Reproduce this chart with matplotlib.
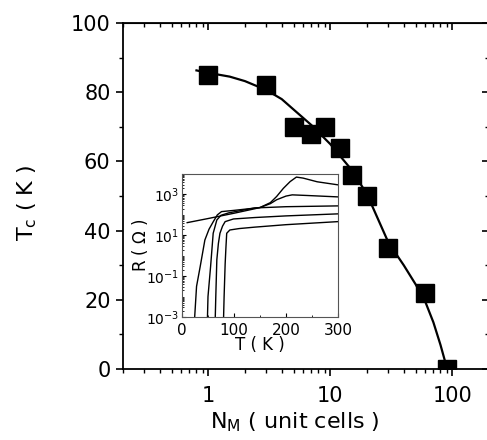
import numpy as np
import matplotlib
matplotlib.use("Agg")
import matplotlib.pyplot as plt
from matplotlib.ticker import FixedLocator, NullFormatter, LogLocator, MultipleLocator

plt.rcParams["font.family"] = ["DejaVu Sans"]
plt.rcParams["mathtext.fontset"] = "dejavusans"

# main data: Tc vs manganite thickness
n_m = [1, 3, 5, 7, 9, 12, 15, 20, 30, 60, 90]
tc = [85, 82, 70, 68, 70, 64, 56, 50, 35, 22, 0]

# guide line
fit_n = [0.8, 1, 1.5, 2, 3, 4, 5, 7, 10, 15, 20, 30, 40, 50, 60, 70, 80, 90]
fit_tc = [86.3, 85.6, 84.5, 83.2, 80.6, 78, 75, 70.5, 65, 57.5, 50.5, 36.5, 30, 24.5, 19.5, 13.5, 7, 0.5]

# inset R(T) curves (log10 R)
tA = [10, 50, 100, 140, 150, 170, 182, 195, 208, 220, 233, 260, 300]
rA = [1.62, 1.82, 2.08, 2.3, 2.36, 2.6, 2.9, 3.3, 3.63, 3.85, 3.8, 3.62, 3.47]
tB = [22, 28, 35, 44, 52, 60, 68, 76, 100, 150, 170, 182, 200, 212, 240, 300]
rB = [-4, -1.5, -0.53, 0.77, 1.3, 1.66, 2.0, 2.16, 2.22, 2.36, 2.55, 2.74, 2.92, 2.98, 2.95, 2.88]
tC = [48, 50, 55, 60, 67, 75, 90, 140, 200, 300]
rC = [-4, -2, -0.53, 1.1, 1.75, 1.98, 2.1, 2.34, 2.4, 2.44]
tD = [63, 65, 67, 70, 73, 78, 83, 99, 140, 200, 300]
rD = [-4, -2, -0.2, 0.6, 1.1, 1.45, 1.67, 1.8, 1.87, 1.95, 2.05]
tE = [79, 81, 83, 84.5, 86, 92, 110, 140, 200, 300]
rE = [-4, -2, -0.4, 0.4, 1.1, 1.26, 1.33, 1.4, 1.52, 1.67]

fig = plt.figure(figsize=(4.87, 4.40), dpi=100)
ax = fig.add_axes([0.2526, 0.1614, 0.7515, 0.7863])

ax.plot(fit_n, fit_tc, "-", color="black", lw=1.6, zorder=2)
ax.plot(n_m, tc, "s", color="black", ms=13.5, zorder=3)

ax.set_xscale("log")
ax.set_xlim(0.2, 200)
ax.set_ylim(0, 100)
ax.yaxis.set_major_locator(MultipleLocator(20))
ax.yaxis.set_minor_locator(MultipleLocator(10))
ax.set_xticks([1, 10, 100])
ax.set_xticklabels(["1", "10", "100"])
ax.xaxis.set_minor_locator(LogLocator(base=10, subs=np.arange(2, 10)))
ax.xaxis.set_minor_formatter(NullFormatter())
ax.tick_params(axis="both", which="major", direction="out", length=5, width=1.2,
               labelsize=15, pad=4)
ax.tick_params(axis="x", which="major", pad=7)
ax.tick_params(axis="both", which="minor", direction="out", length=3, width=1)
for s in ax.spines.values():
    s.set_linewidth(1.3)

# mirrored ticks pointing inward on top and right
top = ax.secondary_xaxis("top")
top.set_xticks([1, 10, 100])
top.xaxis.set_minor_locator(LogLocator(base=10, subs=np.arange(2, 10)))
top.xaxis.set_minor_formatter(NullFormatter())
top.tick_params(which="major", direction="in", length=5, width=1.2, labeltop=False)
top.tick_params(which="minor", direction="in", length=3, width=1)
right = ax.secondary_yaxis("right")
right.yaxis.set_major_locator(MultipleLocator(20))
right.yaxis.set_minor_locator(MultipleLocator(10))
right.tick_params(which="major", direction="in", length=5, width=1.2, labelright=False)
right.tick_params(which="minor", direction="in", length=3, width=1)

ax.set_xlabel(r"N$_\mathregular{M}$ ( unit cells )", fontsize=16)
ax.xaxis.set_label_coords(0.47, -0.12)
ax.set_ylabel(r"T$_\mathregular{c}$ ( K )", fontsize=16)
ax.yaxis.set_label_coords(-0.23, 0.48)

# inset
ins = fig.add_axes([0.3737, 0.2795, 0.3203, 0.325])
for t, r in [(tA, rA), (tB, rB), (tC, rC), (tD, rD), (tE, rE)]:
    ins.plot(t, 10.0 ** np.array(r), "-", color="black", lw=1.0)
ins.set_yscale("log")
ins.set_xlim(0, 300)
ins.set_ylim(1e-3, 1e4)
ins.set_xticks([0, 100, 200, 300])
ins.xaxis.set_minor_locator(MultipleLocator(50))
ins.yaxis.set_major_locator(FixedLocator([1e-3, 1e-1, 1e1, 1e3]))
ins.set_yticklabels([r"10$^{\mathregular{-3}}$", r"10$^{\mathregular{-1}}$",
                     r"10$^{\mathregular{1}}$", r"10$^{\mathregular{3}}$"])
ins.yaxis.set_minor_locator(LogLocator(base=10, subs=np.arange(1, 10), numticks=30))
ins.yaxis.set_minor_formatter(NullFormatter())
ins.tick_params(axis="y", which="major", direction="in", length=3, width=0.8,
                labelsize=10, pad=2)
ins.tick_params(axis="x", which="major", direction="in", length=3, width=0.8,
                labelsize=11, pad=4)
ins.tick_params(axis="both", which="minor", direction="in", length=1.5, width=0.6)
for s in ins.spines.values():
    s.set_linewidth(0.8)
    s.set_color("#555555")
ins.set_xlabel("T ( K )", fontsize=12, labelpad=-1)
ins.set_ylabel(r"R ( $\Omega$ )", fontsize=12, labelpad=-3)

fig.savefig("out.png", dpi=100)
